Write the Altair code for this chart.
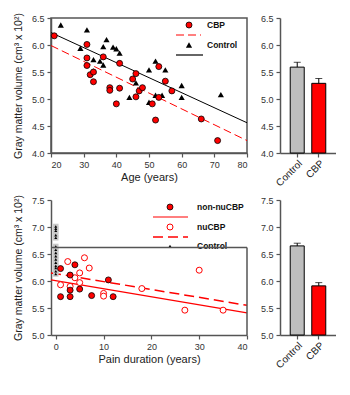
import altair as alt
import pandas as pd

FONT = "Liberation Sans"

# ---------------- top panel: age ----------------
cbp_age = [21, 31, 31, 31, 32, 33, 33, 36, 38, 38, 40, 41, 41, 45, 46, 46, 47, 48, 51, 52, 53, 53, 55, 57, 66, 71]
cbp_gmv = [6.17, 6.01, 5.76, 5.62, 5.45, 5.32, 5.50, 5.78, 5.21, 5.16, 4.91, 5.66, 5.20, 5.37, 5.47, 5.04, 5.15, 5.21, 4.91, 4.61, 5.60, 5.03, 5.33, 5.15, 4.63, 4.23]
ctl_age = [23, 29, 31, 33, 33, 35, 36, 36, 37, 39, 40, 41, 44, 46, 50, 50, 52, 52, 54, 55, 60, 60, 72]
ctl_gmv = [6.37, 5.94, 6.28, 5.73, 5.52, 5.70, 5.97, 5.63, 6.10, 5.96, 5.93, 5.85, 5.03, 5.30, 4.94, 5.54, 5.70, 5.07, 5.07, 5.54, 5.25, 5.03, 5.08]
fit_age = [20, 80]
ctl_fit = [6.23, 4.56]
cbp_fit = [5.99, 4.23]

# ---------------- bottom panel: pain duration ----------------
non_dur = [1, 1, 3, 3, 3, 4, 5, 7.5, 11, 12]
non_gmv = [6.23, 5.71, 6.11, 5.83, 5.71, 6.30, 5.85, 5.73, 6.02, 5.71]
nu_dur = [1, 2.5, 3, 4, 5, 5, 6, 7, 10, 10, 18, 27, 30, 35]
nu_gmv = [5.93, 6.36, 5.90, 6.06, 6.15, 5.97, 6.43, 6.24, 5.77, 5.72, 5.86, 5.46, 6.20, 5.46]
ctl2_dur = [0] * 15
ctl2_gmv = [7.01, 6.97, 6.93, 6.85, 6.80, 6.64, 6.58, 6.52, 6.46, 6.40, 6.34, 6.28, 6.24, 6.18, 6.13]
fit_dur = [-1, 40]
non_fit = [6.02, 5.41]
nu_fit = [6.15, 5.55]
frame_top = 6.62

# ---------------- bars ----------------
groups = ["Control", "CBP"]
bar_top_mean = [5.59, 5.29]
bar_top_upper = [5.68, 5.38]
bar_bot_mean = [6.65, 5.91]
bar_bot_upper = [6.70, 5.97]

legend_top = ["CBP", "Control"]
legend_bot = ["non-nuCBP", "nuCBP", "Control"]

YTITLE = "Gray matter volume (cm\u00b3 x 10\u00b2)"
AX = "#555555"
RED = "#FF0000"
W, H = 196, 135
BW = 56

top_dom = [4.0, 6.5]
top_ticks = [4.0, 4.5, 5.0, 5.5, 6.0, 6.5]
bot_dom = [5.0, 7.5]
bot_ticks = [5.0, 5.5, 6.0, 6.5, 7.0, 7.5]


def Y(field, dom, ticks, title=None):
    return alt.Y(field, type="quantitative", scale=alt.Scale(domain=dom, nice=False, zero=False),
                 axis=alt.Axis(title=title, format=".1f", values=ticks, labelOverlap=False, titlePadding=8,
                               titleFontSize=10.5))


def X(field, dom, ticks, title):
    return alt.X(field, type="quantitative", scale=alt.Scale(domain=dom, nice=False, zero=False),
                 axis=alt.Axis(title=title, values=ticks, labelOverlap=False, titlePadding=2, titleFontSize=11))


def legend_text(df, i, x, y):
    return alt.Chart(df.iloc[[i]]).mark_text(align="left", baseline="middle", fontWeight="bold", fontSize=8.5,
                                             font=FONT, color="#111").encode(
        x=alt.value(x), y=alt.value(y), text="label:N")


# legend anchor offsets (pixels inside the plot area)
LX = W - 54

# ---------- top scatter ----------
df_cbp = pd.DataFrame({"age": cbp_age, "gmv": cbp_gmv})
df_ctl = pd.DataFrame({"age": ctl_age, "gmv": ctl_gmv})
df_fit = pd.DataFrame({"age": fit_age, "ctl": ctl_fit, "cbp": cbp_fit})

xa = X("age", [20, 80], [20, 30, 40, 50, 60, 70, 80], "Age (years)")

fit_ctl_l = alt.Chart(df_fit).mark_line(color="black", strokeWidth=1).encode(x=xa, y=Y("ctl", top_dom, top_ticks, YTITLE))
fit_cbp_l = alt.Chart(df_fit).mark_line(color=RED, strokeWidth=1, strokeDash=[8, 4]).encode(x=xa, y=Y("cbp", top_dom, top_ticks, YTITLE))
pts_ctl = alt.Chart(df_ctl).mark_point(shape="triangle-up", filled=True, color="black", size=38, opacity=1).encode(
    x=xa, y=Y("gmv", top_dom, top_ticks, YTITLE))
pts_cbp = alt.Chart(df_cbp).mark_point(shape="circle", filled=True, fill=RED, stroke="black", strokeWidth=0.8, size=36,
                                       opacity=1).encode(x=xa, y=Y("gmv", top_dom, top_ticks, YTITLE))

lt = pd.DataFrame({"label": legend_top})
leg_t1 = alt.Chart(lt.iloc[[0]]).mark_point(shape="circle", filled=True, fill=RED, stroke="black", strokeWidth=0.8, size=36,
                                            opacity=1).encode(x=alt.value(LX - 4), y=alt.value(7))
leg_t2 = alt.Chart(lt.iloc[[0]]).mark_rule(color=RED, strokeWidth=1, strokeDash=[8, 4]).encode(
    x=alt.value(LX - 17), x2=alt.value(LX + 8), y=alt.value(17))
leg_t3 = alt.Chart(lt.iloc[[1]]).mark_point(shape="triangle-up", filled=True, color="black", size=38, opacity=1).encode(
    x=alt.value(LX - 4), y=alt.value(27))
leg_t4 = alt.Chart(lt.iloc[[1]]).mark_rule(color="#333333", strokeWidth=1.5).encode(
    x=alt.value(LX - 17), x2=alt.value(LX + 10), y=alt.value(37))

top_scatter = alt.layer(fit_ctl_l, fit_cbp_l, pts_ctl, pts_cbp, leg_t1, leg_t2, leg_t3, leg_t4,
                        legend_text(lt, 0, LX + 14, 7), legend_text(lt, 1, LX + 14, 27)).properties(
    width=W, height=H, view=alt.ViewBackground(stroke=AX, strokeWidth=1.5))


# ---------- bars ----------
def bar_panel(mean, upper, dom, ticks):
    d = pd.DataFrame({"g": groups, "m": mean, "u": upper})
    xb = alt.X("g:N", sort=groups, scale=alt.Scale(paddingInner=0, paddingOuter=0.3),
               axis=alt.Axis(title=None, labelAngle=-45, labelFontSize=10, labelColor="#222", labelPadding=1))
    bars = alt.Chart(d).mark_bar(size=14, stroke="black", strokeWidth=1).encode(
        x=xb, y=Y("m", dom, ticks), y2=alt.datum(dom[0]),
        color=alt.Color("g:N", scale=alt.Scale(domain=groups, range=["#BEBEBE", RED]), legend=None))
    err = alt.Chart(d).mark_rule(color="black", strokeWidth=1).encode(x=xb, y=Y("m", dom, ticks), y2="u:Q")
    cap = alt.Chart(d).mark_tick(color="black", size=7, thickness=1).encode(x=xb, y=Y("u", dom, ticks))
    return alt.layer(err, cap, bars).properties(width=BW, height=H, view=alt.ViewBackground(stroke=None))


top_bar = bar_panel(bar_top_mean, bar_top_upper, top_dom, top_ticks)
bot_bar = bar_panel(bar_bot_mean, bar_bot_upper, bot_dom, bot_ticks)

# ---------- bottom scatter ----------
df_non = pd.DataFrame({"dur": non_dur, "gmv": non_gmv})
df_nu = pd.DataFrame({"dur": nu_dur, "gmv": nu_gmv})
df_c2 = pd.DataFrame({"dur": ctl2_dur, "gmv": ctl2_gmv})
df_fit2 = pd.DataFrame({"dur": fit_dur, "non": non_fit, "nu": nu_fit})
df_frame = pd.DataFrame({"x": [fit_dur[1]], "y": [bot_dom[0]], "y2": [frame_top]})

xd = X("dur", [-1, 40], [0, 10, 20, 30, 40], "Pain duration (years)")
yb = Y("gmv", bot_dom, bot_ticks, YTITLE)

frame_h = alt.Chart(df_frame).mark_rule(color=AX, strokeWidth=1.5).encode(y=Y("y2", bot_dom, bot_ticks, YTITLE))
frame_v = alt.Chart(df_frame).mark_rule(color=AX, strokeWidth=1.5).encode(
    x=X("x", [-1, 40], [0, 10, 20, 30, 40], "Pain duration (years)"), y=Y("y", bot_dom, bot_ticks, YTITLE), y2="y2:Q")
fit_non_l = alt.Chart(df_fit2).mark_line(color=RED, strokeWidth=1.2).encode(x=xd, y=Y("non", bot_dom, bot_ticks, YTITLE))
fit_nu_l = alt.Chart(df_fit2).mark_line(color=RED, strokeWidth=1.5, strokeDash=[10, 5]).encode(
    x=xd, y=Y("nu", bot_dom, bot_ticks, YTITLE))
c2_bg = alt.Chart(df_c2).mark_point(shape="square", filled=True, color="#C8C8C8", size=30, opacity=1).encode(x=xd, y=yb)
c2_pts = alt.Chart(df_c2).mark_point(shape="triangle-up", filled=True, color="black", size=9, opacity=1).encode(x=xd, y=yb)
non_pts = alt.Chart(df_non).mark_point(shape="circle", filled=True, fill=RED, stroke="black", strokeWidth=0.8, size=36,
                                       opacity=1).encode(x=xd, y=yb)
nu_pts = alt.Chart(df_nu).mark_point(shape="circle", filled=True, fill="white", stroke=RED, strokeWidth=1, size=36,
                                     opacity=1).encode(x=xd, y=yb)

BX = W - 77
lb = pd.DataFrame({"label": legend_bot})
leg_b1 = alt.Chart(lb.iloc[[0]]).mark_point(shape="circle", filled=True, fill=RED, stroke="black", strokeWidth=0.8, size=36,
                                            opacity=1).encode(x=alt.value(BX), y=alt.value(7))
leg_b2 = alt.Chart(lb.iloc[[0]]).mark_rule(color=RED, strokeWidth=1.2).encode(x=alt.value(BX - 17), x2=alt.value(BX + 18), y=alt.value(17))
leg_b3 = alt.Chart(lb.iloc[[1]]).mark_point(shape="circle", filled=True, fill="white", stroke=RED, strokeWidth=1, size=36,
                                            opacity=1).encode(x=alt.value(BX), y=alt.value(27))
leg_b4 = alt.Chart(lb.iloc[[1]]).mark_rule(color=RED, strokeWidth=1.5, strokeDash=[10, 5]).encode(
    x=alt.value(BX - 17), x2=alt.value(BX + 18), y=alt.value(37))
leg_b5 = alt.Chart(lb.iloc[[2]]).mark_point(shape="triangle-up", filled=True, color="black", size=9, opacity=1).encode(
    x=alt.value(BX), y=alt.value(46))

bot_scatter = alt.layer(fit_non_l, fit_nu_l, c2_bg, c2_pts, nu_pts, non_pts, leg_b1, leg_b2, leg_b3, leg_b4, leg_b5,
                        legend_text(lb, 0, BX + 27, 7), legend_text(lb, 1, BX + 27, 27), legend_text(lb, 2, BX + 27, 46),
                        frame_h, frame_v).properties(width=W, height=H, view=alt.ViewBackground(stroke=None))

row1 = alt.hconcat(top_scatter, top_bar, spacing=10)
row2 = alt.hconcat(bot_scatter, bot_bar, spacing=10)
chart = alt.vconcat(row1, row2, spacing=6).properties(
    padding={"left": 4, "top": 3, "right": 0, "bottom": 0}
).configure(font=FONT).configure_axis(
    grid=False, domainColor=AX, domainWidth=1.5, tickColor=AX, tickWidth=1.2, tickSize=4,
    labelFontSize=9, labelColor="#333", labelFont=FONT, labelPadding=3,
    titleFontSize=11, titleFontWeight="normal", titleColor="#222", titleFont=FONT
).configure_view(stroke=None)

chart.save("out.html", embed_options={"renderer": "svg", "actions": False})
